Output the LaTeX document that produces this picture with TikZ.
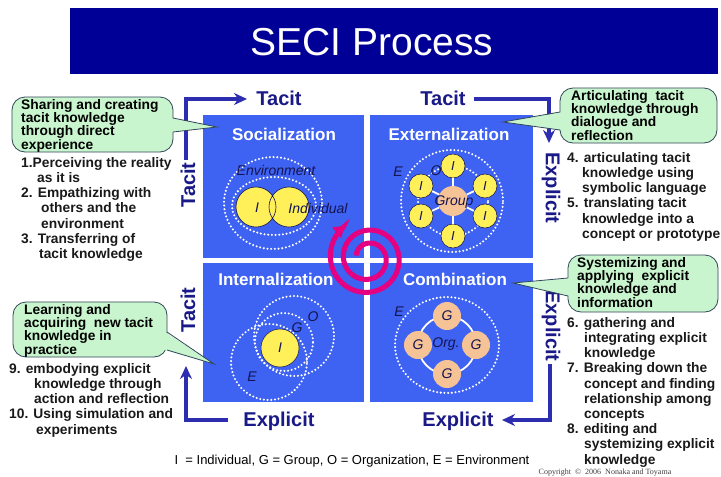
\documentclass[tikz,border=0pt]{standalone}
\usepackage{fontspec}
\setmainfont{Liberation Sans}
\newfontfamily\copyfont{Liberation Serif}
\usetikzlibrary{arrows.meta}
\definecolor{quadblue}{RGB}{62,98,242}
\definecolor{barnavy}{RGB}{0,0,150}
\definecolor{framenavy}{RGB}{45,45,175}
\definecolor{labnavy}{RGB}{25,25,135}
\definecolor{bubgreen}{RGB}{200,245,205}
\definecolor{bubline}{RGB}{50,70,90}
\definecolor{ylw}{RGB}{255,240,90}
\definecolor{peach}{RGB}{245,195,150}
\definecolor{spiralpink}{RGB}{228,0,128}
\definecolor{inkdark}{RGB}{20,20,80}
\begin{document}
\begin{tikzpicture}[x=1pt,y=-1pt,
  quad/.style={fill=quadblue, draw=none},
  titletext/.style={text=white, font=\fontsize{39}{39}\selectfont, inner sep=0},
  qtitle/.style={text=white, font=\fontsize{17}{17}\selectfont\bfseries, inner sep=0},
  axislbl/.style={text=labnavy, font=\fontsize{20}{20}\selectfont\bfseries, inner sep=0},
  framearrow/.style={draw=framenavy, line width=3.5pt, -{Stealth[length=13pt,width=12pt]}},
  bubble/.style={fill=bubgreen, draw=bubline, line width=0.8pt, rounded corners=13pt},
  pointerfill/.style={fill=bubgreen, draw=none},
  pointerline/.style={draw=bubline, line width=0.8pt},
  bubtext/.style={font=\fontsize{13.8}{13.3}\selectfont\bfseries, align=left, inner sep=0, anchor=north west, text=black},
  listtext/.style={font=\fontsize{13.8}{15.2}\selectfont\bfseries, align=left, inner sep=0, anchor=north west, text=black!90},
  dotring/.style={draw=white, line width=2.3pt, dash pattern=on 0pt off 3.7pt, line cap=round},
  ital/.style={text=inkdark, font=\fontsize{14}{14}\selectfont\itshape, inner sep=0},
  inode/.style={circle, fill=ylw, draw=inkdark, line width=0.5pt, minimum size=24pt, inner sep=0, text=inkdark, font=\fontsize{13}{13}\selectfont\itshape},
  gnode/.style={circle, fill=peach, draw=none, minimum size=28pt, inner sep=0, text=inkdark, font=\fontsize{14}{14}\selectfont\itshape},
  spoke/.style={draw=white, line width=1.8pt},
  spiral/.style={draw=spiralpink, line width=5pt, -{Triangle[length=11pt,width=13pt]}},
]
\useasboundingbox (0,0) rectangle (721,477);
\fill[white] (0,0) rectangle (721,477);

% title bar
\fill[barnavy] (70,8) rectangle (718,74);
\node[titletext] (ttl) at (372,42) {SECI Process};

% quadrants
\fill[quad] (203,115) rectangle (364,258);
\fill[quad] (370,115) rectangle (533,258);
\fill[quad] (203,263) rectangle (364,402);
\fill[quad] (370,263) rectangle (533,402);

\node[qtitle] (soc) at (284,134) {Socialization};
\node[qtitle] (ext) at (449,134) {Externalization};
\node[qtitle] (int) at (276,279) {Internalization};
\node[qtitle] (com) at (455,279) {Combination};

% socialization
\draw[dotring] (273,203) ellipse[x radius=49pt, y radius=46pt];
\draw[dotring] (274,206) ellipse[x radius=42pt, y radius=29pt];
\fill[ylw] (256,207) circle[radius=20pt];
\fill[ylw] (289,207) circle[radius=20pt];
\draw[inkdark, line width=0.6pt] (256,207) circle[radius=20pt] (289,207) circle[radius=20pt];
\node[ital] (envS) at (276,170) {Environment};
\node[ital] (iS) at (257,208) {I};
\node[ital] (indS) at (318,208) {Individual};

% externalization
\draw[dotring] (452,201) circle[radius=51pt];
\draw[dotring] (453,201) circle[radius=35pt];
\node[circle, fill=peach, minimum size=30pt, inner sep=0] (grpc) at (453,201) {};
\node[inode] (e1) at (453,166) {I};
\node[inode] (e2) at (485,186) {I};
\node[inode] (e3) at (485,216) {I};
\node[inode] (e4) at (453,236) {I};
\node[inode] (e5) at (421,216) {I};
\node[inode] (e6) at (421,186) {I};
\foreach \n in {e1,e2,e3,e4,e5,e6} {\draw[spoke] (grpc) -- (\n);}
\node[ital] (grp) at (454,202) {Group};
\node[ital] (eE) at (398,172) {E};
\node[ital] (eO) at (436,171) {O};

% internalization
\draw[dotring] (269,362) circle[radius=38pt];
\draw[dotring] (294,336) circle[radius=40pt];
\draw[dotring] (284,342) circle[radius=29pt];
\node[circle, fill=ylw, draw=inkdark, line width=0.5pt, minimum size=38pt, inner sep=0, text=inkdark, font=\fontsize{14}{14}\selectfont\itshape] (iI) at (280,348) {I};
\node[ital] (iO) at (313,317) {O};
\node[ital] (iG) at (297,328) {G};
\node[ital] (iE) at (252,377) {E};

% combination
\draw[dotring] (447,345) ellipse[x radius=52pt, y radius=48pt];
\draw[spoke] (447,345) circle[radius=29pt];
\node[gnode] (g1) at (447,316) {G};
\node[gnode] (g2) at (476,345) {G};
\node[gnode] (g3) at (447,374) {G};
\node[gnode] (g4) at (418,345) {G};
\node[ital] (org) at (446,344) {Org.};
\node[ital] (cE) at (399,312) {E};

% spiral
\draw[spiral] plot[domain=0:2.12, samples=240, smooth, variable=\t]
  ({368+(12+13*\t)*cos(235+360*(\t-2.12))}, {258+(12+13*\t)*sin(235+360*(\t-2.12))});

% frame labels
\node[axislbl] (tacitTL) at (279,98) {Tacit};
\node[axislbl] (tacitTR) at (443,98) {Tacit};
\node[axislbl, rotate=90] (tacitL1) at (188,185) {Tacit};
\node[axislbl, rotate=90] (tacitL2) at (188,310) {Tacit};
\node[axislbl, rotate=-90] (explR1) at (551,188) {Explicit};
\node[axislbl, rotate=-90] (explR2) at (551,326) {Explicit};
\node[axislbl] (explB1) at (279,421) {Explicit};
\node[axislbl] (explB2) at (458,421) {Explicit};

% frame arrows
\coordinate (fTLs) at (186,160); \coordinate (fTLc) at (186,99); \coordinate (fTLe) at (247,99);
\coordinate (fTRs) at (474,99); \coordinate (fTRc) at (549,99); \coordinate (fTRe) at (549,143);
\coordinate (fBRs) at (550,364); \coordinate (fBRc) at (550,420); \coordinate (fBRe) at (502,420);
\coordinate (fBLs) at (228,420); \coordinate (fBLc) at (186,420); \coordinate (fBLe) at (186,366);
\draw[framearrow] (fTLs) -- (fTLc) -- (fTLe);
\draw[framearrow] (fTRs) -- (fTRc) -- (fTRe);
\draw[framearrow] (fBRs) -- (fBRc) -- (fBRe);
\draw[framearrow] (fBLs) -- (fBLc) -- (fBLe);

% bubbles
\draw[bubble] (12,97) rectangle (173,152);
\fill[pointerfill] (171,118) -- (217,127) -- (171,132) -- cycle;
\draw[pointerline] (173,118) -- (217,127) -- (173,132);
\node[bubtext] (b1) at (21,99) {Sharing and creating\\tacit knowledge\\through direct\\experience};

\draw[bubble] (560,88) rectangle (717,143);
\fill[pointerfill] (562,112) -- (503,122) -- (562,130) -- cycle;
\draw[pointerline] (560,112) -- (503,122) -- (560,130);
\node[bubtext] (b2) at (571,90) {Articulating\ \ tacit\\knowledge through\\dialogue and\\reflection};

\draw[bubble] (568,255) rectangle (718,312);
\fill[pointerfill] (570,278) -- (513,283) -- (570,296) -- cycle;
\draw[pointerline] (568,278) -- (513,283) -- (568,296);
\node[bubtext] (b3) at (577,257) {Systemizing and\\applying\ \ explicit\\knowledge and\\information};

\draw[bubble] (13,302) rectangle (167,357);
\fill[pointerfill] (165,332) -- (214,364) -- (165,350) -- cycle;
\draw[pointerline] (167,332) -- (214,364) -- (167,350);
\node[bubtext] (b4) at (24,304) {Learning and\\acquiring\ \ new tacit\\knowledge in\\practice};

% lists
\node[listtext] (l1) at (21,157) {1.Perceiving the reality\\\hspace*{16pt}as it is\\2. Empathizing with\\\hspace*{20pt}others and the\\\hspace*{20pt}environment\\3. Transferring of\\\hspace*{18pt}tacit knowledge};
\node[listtext] (l2) at (567,152) {4. articulating tacit\\\hspace*{15pt}knowledge using\\\hspace*{15pt}symbolic language\\5. translating tacit\\\hspace*{15pt}knowledge into a\\\hspace*{15pt}concept or prototype};
\node[listtext] (l3) at (567,317) {6. gathering and\\\hspace*{17pt}integrating explicit\\\hspace*{17pt}knowledge\\7. Breaking down the\\\hspace*{17pt}concept and finding\\\hspace*{17pt}relationship among\\\hspace*{17pt}concepts\\8. editing and\\\hspace*{17pt}systemizing explicit\\\hspace*{17pt}knowledge};
\node[listtext] (l4) at (9,363) {9. embodying explicit\\\hspace*{25pt}knowledge through\\\hspace*{25pt}action and reflection\\10. Using simulation and\\\hspace*{27pt}experiments};

% legend and copyright
\node[font=\fontsize{13}{13}\selectfont, text=black, inner sep=0] (legend) at (352,461) {I\ \ = Individual, G = Group, O = Organization, E = Environment};
\node[font=\copyfont\fontsize{8}{8}\selectfont, text=black!75, inner sep=0] (copy) at (605,473) {Copyright\ \ \textcopyright\ \ 2006\ \ Nonaka and Toyama};
\end{tikzpicture}
\end{document}
